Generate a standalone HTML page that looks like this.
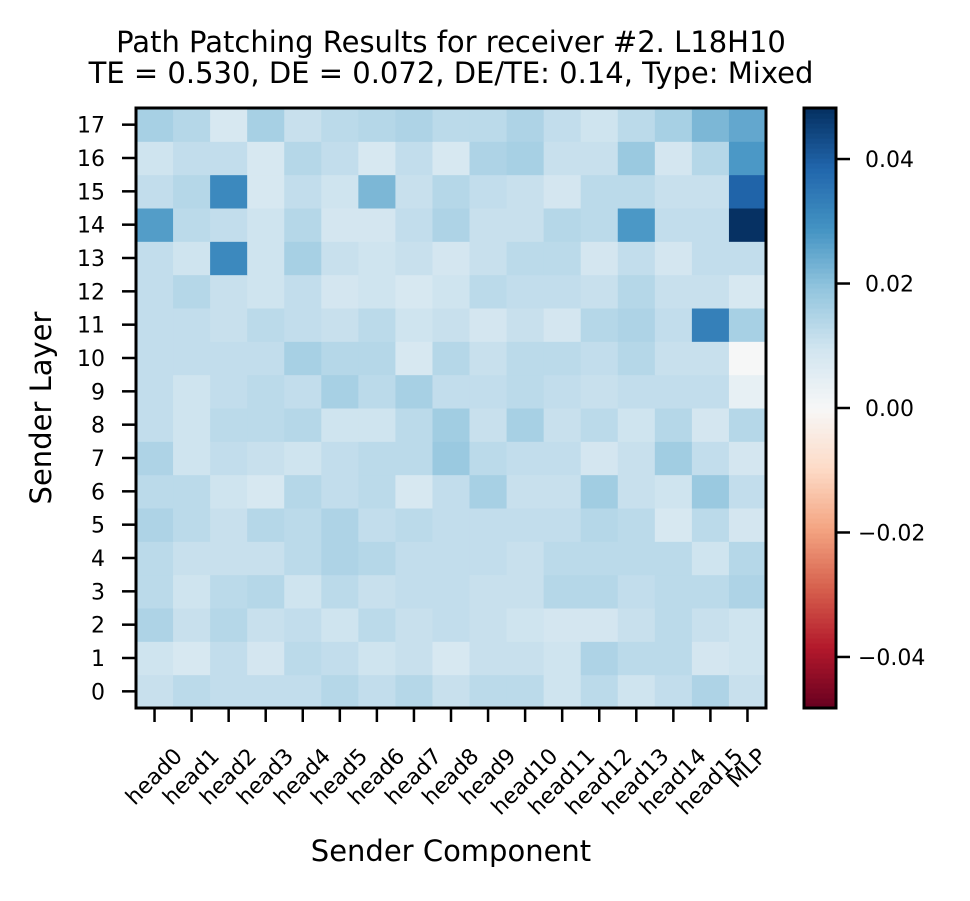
<!DOCTYPE html>
<html><head><meta charset="utf-8"><style>
body{margin:0;background:#fff;}
svg text{font-family:"DejaVu Sans","Liberation Sans",sans-serif;fill:#000;}
</style></head><body>
<svg id="chart" width="970" height="896" xmlns="http://www.w3.org/2000/svg">
<text x="451" y="52" font-size="29" text-anchor="middle">Path Patching Results for receiver #2. L18H10</text>
<text x="451" y="83" font-size="29" text-anchor="middle">TE = 0.530, DE = 0.072, DE/TE: 0.14, Type: Mixed</text>
<text x="451" y="861" font-size="29" text-anchor="middle">Sender Component</text>
<text transform="translate(51,408) rotate(-90)" font-size="29" text-anchor="middle">Sender Layer</text>
<g id="cells"></g><g id="axes"></g><g id="cbar"></g>
</svg>
<script>
const columns=["head0","head1","head2","head3","head4","head5","head6","head7","head8","head9","head10","head11","head12","head13","head14","head15","MLP"];
const layers=[0,1,2,3,4,5,6,7,8,9,10,11,12,13,14,15,16,17];
const cbarTicks=[-0.04,-0.02,0,0.02,0.04];
const cbarTickLabels=["\u22120.04","\u22120.02","0.00","0.02","0.04"];
// rows listed from layer 0 to 17
const row0=[.011,.013,.012,.012,.012,.014,.012,.014,.011,.013,.013,.010,.013,.010,.012,.015,.011];
const row1=[.010,.008,.012,.009,.013,.012,.010,.011,.008,.011,.011,.010,.015,.013,.013,.009,.010];
const row2=[.015,.011,.014,.011,.012,.010,.013,.011,.012,.011,.010,.009,.009,.011,.013,.011,.010];
const row3=[.013,.010,.013,.014,.010,.013,.011,.012,.012,.011,.011,.014,.014,.012,.013,.013,.015];
const row4=[.013,.011,.011,.011,.013,.015,.014,.012,.012,.012,.011,.013,.013,.013,.013,.010,.014];
const row5=[.015,.013,.011,.014,.013,.015,.012,.013,.012,.012,.012,.012,.014,.013,.008,.013,.009];
const row6=[.013,.013,.010,.008,.014,.012,.013,.008,.012,.016,.011,.011,.017,.011,.010,.018,.012];
const row7=[.015,.010,.012,.011,.010,.012,.013,.013,.018,.013,.012,.012,.009,.011,.017,.012,.009];
const row8=[.012,.010,.013,.013,.014,.010,.010,.013,.017,.011,.016,.011,.013,.010,.014,.009,.014];
const row9=[.012,.010,.012,.013,.012,.016,.013,.016,.012,.012,.013,.012,.011,.012,.012,.012,.004];
const row10=[.012,.012,.012,.012,.016,.014,.014,.008,.014,.011,.013,.013,.012,.014,.011,.011,.0002];
const row11=[.012,.012,.011,.013,.012,.011,.013,.010,.011,.009,.011,.009,.014,.015,.012,.033,.016];
const row12=[.012,.014,.011,.010,.012,.009,.010,.008,.010,.013,.012,.012,.011,.014,.011,.011,.008];
const row13=[.012,.010,.031,.010,.016,.011,.010,.011,.009,.011,.013,.013,.009,.012,.009,.012,.012];
const row14=[.027,.013,.012,.010,.014,.009,.009,.012,.015,.011,.011,.014,.013,.028,.012,.012,.048];
const row15=[.012,.014,.031,.008,.012,.010,.022,.011,.014,.012,.011,.009,.013,.013,.011,.011,.039];
const row16=[.010,.012,.012,.008,.014,.012,.008,.012,.008,.015,.016,.011,.011,.018,.009,.014,.028];
const row17=[.016,.014,.008,.016,.011,.013,.014,.015,.013,.013,.015,.012,.010,.013,.016,.022,.025];
const values=[row0,row1,row2,row3,row4,row5,row6,row7,row8,row9,row10,row11,row12,row13,row14,row15,row16,row17];
const vmin=-0.0482,vmax=0.0482;
const X0=136,X1=766,Y0=108,Y1=708;
const cw=(X1-X0)/columns.length, rh=(Y1-Y0)/layers.length;
const xPos=i=>X0+i*cw, yPos=r=>Y1-(r+1)*rh;
const stops=[[0,[103,0,31]],[.1,[178,24,43]],[.2,[214,96,77]],[.3,[244,165,130]],[.4,[253,219,199]],[.5,[247,247,247]],[.6,[209,229,240]],[.7,[146,197,222]],[.8,[67,147,195]],[.9,[33,102,172]],[1,[5,48,97]]];
function cmap(v){let t=(v-vmin)/(vmax-vmin);t=Math.max(0,Math.min(1,t));
for(let i=1;i<stops.length;i++){if(t<=stops[i][0]){const a=stops[i-1],b=stops[i],f=(t-a[0])/(b[0]-a[0]);
return 'rgb('+a[1].map((c,k)=>Math.round(c+(b[1][k]-c)*f)).join(',')+')';}}return 'rgb(5,48,97)';}
const NS='http://www.w3.org/2000/svg';
function mk(tag,attrs,parent){const e=document.createElementNS(NS,tag);for(const k in attrs)e.setAttribute(k,attrs[k]);parent.appendChild(e);return e;}
const cells=document.getElementById('cells'),axes=document.getElementById('axes'),cb=document.getElementById('cbar');
values.forEach((row,r)=>row.forEach((v,c)=>{
const e=mk('rect',{x:xPos(c),y:yPos(r),width:cw+0.5,height:rh+0.5,fill:cmap(v)},cells);

}));
const fr=mk('rect',{x:X0,y:Y0,width:X1-X0,height:Y1-Y0,fill:'none',stroke:'#000','stroke-width':3},axes);


layers.forEach((l,r)=>{const y=yPos(r)+rh/2;
mk('line',{x1:X0-14,x2:X0,y1:y,y2:y,stroke:'#000','stroke-width':2.5},axes);
const t=mk('text',{x:105,y:y+8,'font-size':22,'text-anchor':'end'},axes);t.textContent=l;

});
columns.forEach((c,i)=>{const x=xPos(i)+cw/2;
mk('line',{x1:x,x2:x,y1:Y1,y2:Y1+14,stroke:'#000','stroke-width':2.5},axes);
const t=mk('text',{transform:'translate('+x+','+(Y1+40)+') rotate(-45)','font-size':22,'text-anchor':'end'},axes);t.textContent=c;


const bb=t.getBoundingClientRect();
const dx=x-(bb.left+bb.right)/2, dy=744-bb.top;
t.setAttribute('transform','translate('+(x+dx)+','+(Y1+40+dy)+') rotate(-45)');});
// colorbar
const CX=804,CW=32,N=120;
for(let i=0;i<N;i++){const v0=vmin+(vmax-vmin)*i/N;const y=Y1-(i+1)*(Y1-Y0)/N;
mk('rect',{x:CX,y:y,width:CW,height:(Y1-Y0)/N+0.6,fill:cmap(v0+(vmax-vmin)/N/2)},cb);}
const cf=mk('rect',{x:CX,y:Y0,width:CW,height:Y1-Y0,fill:'none',stroke:'#000','stroke-width':3},cb);


const cy=v=>Y1-(v-vmin)/(vmax-vmin)*(Y1-Y0);
cbarTicks.forEach((v,i)=>{const y=cy(v);
mk('line',{x1:CX+CW,x2:CX+CW+14,y1:y,y2:y,stroke:'#000','stroke-width':2.5},cb);
const t=mk('text',{x:865,y:y+8,'font-size':22},cb);t.textContent=cbarTickLabels[i];
if(v<0)t.setAttribute('x',858);

});
</script>
</body></html>
